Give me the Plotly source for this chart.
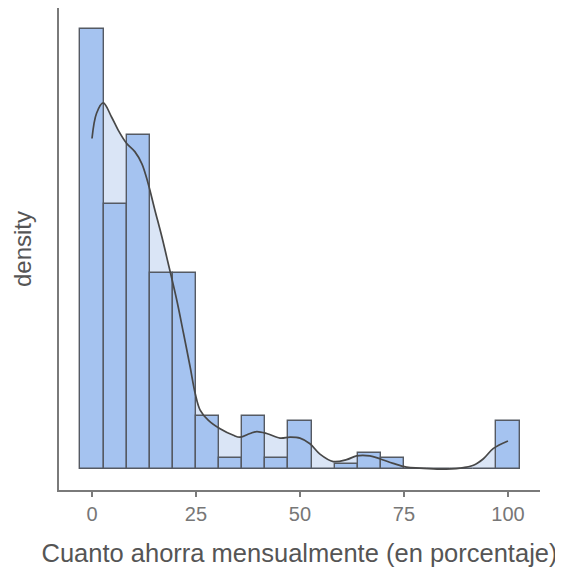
import plotly.graph_objects as go

# Histogram: bins centered at k*100/18, k=0..18
bin_centers = [k * 100 / 18 for k in range(19)]
bin_width = 100 / 18
counts = [83, 50, 63, 37, 37, 10, 2, 10, 2, 9, 0, 1, 3, 2, 0, 0, 0, 0, 9]

# Density curve
kde_x = [0, 1.1, 2.7, 4.7, 6.3, 8.3, 10.3, 12.0, 13.5, 15.1, 16.8, 18.3, 20.4, 22.0,
         23.6, 24.8, 26.0, 28.0, 30.8, 34.0, 35.6, 38.0, 39.6, 42.0, 45.2, 47.6, 50.0,
         52.4, 54.8, 58.0, 61.2, 63.6, 66.8, 69.2, 72.4, 75.6, 78.8, 83.7, 88.5, 91.7,
         94.1, 96.5, 100]
kde_y = [0.0353, 0.0380, 0.0391, 0.0376, 0.0362, 0.0348, 0.0339, 0.0326, 0.0305, 0.0277,
         0.0248, 0.0220, 0.0180, 0.0145, 0.0109, 0.0081, 0.0063, 0.0052, 0.0043, 0.0036,
         0.0034, 0.0038, 0.0040, 0.0038, 0.0033, 0.0034, 0.0033, 0.0027, 0.0016, 0.0008,
         0.0010, 0.0014, 0.0014, 0.0011, 0.0006, 0.0002, 0.0001, 0.0000, 0.0001, 0.0004,
         0.0011, 0.0022, 0.0030]

x_ticks = [0, 25, 50, 75, 100]

total = sum(counts)
dens = [c / (total * bin_width) for c in counts]

XR = [-7.93, 107.7]
YR = [-0.00224, 0.04924]

fig = go.Figure()
# light density fill (behind the bars)
fig.add_trace(go.Scatter(
    x=kde_x, y=kde_y, mode="lines", fill="tozeroy",
    fillcolor="#dae5f6", line=dict(color="rgba(0,0,0,0)", width=0, shape="spline"),
    hoverinfo="skip", showlegend=False, xaxis="x", yaxis="y"))
# bars on an overlaid subplot so they sit above the fill
fig.add_trace(go.Bar(
    x=bin_centers, y=dens, width=[bin_width] * len(bin_centers),
    marker=dict(color="#a5c3f0", line=dict(color="#555a63", width=1.4)),
    showlegend=False, xaxis="x2", yaxis="y2"))
fig.add_trace(go.Scatter(
    x=kde_x, y=kde_y, mode="lines",
    line=dict(color="#484848", width=1.7, shape="spline"),
    showlegend=False, xaxis="x2", yaxis="y2"))

fig.update_layout(
    width=563, height=575,
    margin=dict(l=51, r=31, t=0, b=93),
    paper_bgcolor="white", plot_bgcolor="white",
    font=dict(family="Liberation Sans, Arial, sans-serif", color="#666666"),
    bargap=0,
    xaxis=dict(
        range=XR, tickvals=x_ticks, ticktext=[str(t) for t in x_ticks],
        showline=True, linecolor="#7a7a7a", linewidth=2,
        ticks="outside", ticklen=5, tickcolor="#7a7a7a", tickwidth=2,
        showgrid=False, zeroline=False, automargin=False,
        tickfont=dict(size=20, color="#777777"),
        title=dict(text="Cuanto ahorra mensualmente (en porcentaje)",
                   font=dict(size=25.5, color="#555555"), standoff=20),
    ),
    yaxis=dict(
        range=YR, showticklabels=False, ticks="",
        showline=True, linecolor="#7a7a7a", linewidth=2,
        showgrid=False, zeroline=False, automargin=False,
        title=dict(text="density", font=dict(size=24, color="#555555"), standoff=19),
    ),
    xaxis2=dict(range=XR, overlaying="x", visible=False, showgrid=False, zeroline=False),
    yaxis2=dict(range=YR, overlaying="y", visible=False, showgrid=False, zeroline=False),
)

fig.write_html("out.html")
